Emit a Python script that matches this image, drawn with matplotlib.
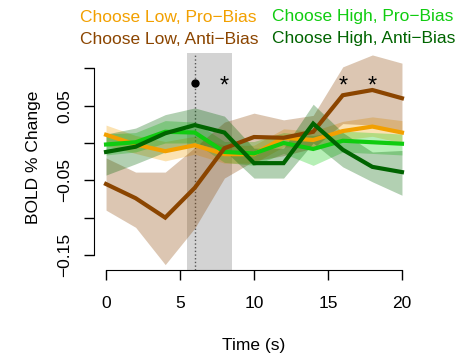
import matplotlib
matplotlib.use("Agg")
import matplotlib.pyplot as plt

plt.rcParams['font.family'] = ['Liberation Sans', 'DejaVu Sans']
plt.rcParams['font.size'] = 12.5

# time points (s)
t = [0, 2, 4, 6, 8, 10, 12, 14, 16, 18, 20]

# Choose Low, Pro-Bias
low_pro = [0.011, -0.002, -0.011, -0.003, -0.015, -0.015, 0.007, 0.004, 0.016, 0.022, 0.014]
low_pro_lo = [-0.003, -0.014, -0.024, -0.015, -0.027, -0.027, -0.005, -0.008, 0.004, 0.009, 0.000]
low_pro_hi = [0.024, 0.010, 0.002, 0.009, -0.003, -0.003, 0.019, 0.016, 0.029, 0.035, 0.030]

# Choose High, Pro-Bias
high_pro = [-0.002, 0.001, 0.015, 0.014, -0.012, -0.014, 0.000, -0.008, 0.003, 0.001, -0.001]
high_pro_lo = [-0.016, -0.012, 0.000, 0.000, -0.026, -0.030, -0.014, -0.030, -0.012, -0.014, -0.016]
high_pro_hi = [0.012, 0.014, 0.030, 0.028, 0.002, 0.002, 0.014, 0.010, 0.016, 0.014, 0.012]

# Choose Low, Anti-Bias
low_anti = [-0.055, -0.074, -0.100, -0.060, -0.007, 0.008, 0.007, 0.015, 0.064, 0.071, 0.060]
low_anti_lo = [-0.090, -0.113, -0.163, -0.114, -0.047, -0.024, -0.017, -0.007, 0.026, 0.024, 0.013]
low_anti_hi = [-0.020, -0.039, -0.039, -0.006, 0.028, 0.040, 0.031, 0.037, 0.102, 0.118, 0.107]

# Choose High, Anti-Bias
high_anti = [-0.012, -0.005, 0.013, 0.024, 0.014, -0.027, -0.027, 0.026, -0.009, -0.032, -0.039]
high_anti_lo = [-0.043, -0.028, -0.012, 0.000, -0.010, -0.047, -0.047, 0.000, -0.032, -0.052, -0.070]
high_anti_hi = [0.012, 0.020, 0.038, 0.047, 0.036, -0.007, -0.007, 0.052, 0.014, -0.012, -0.010]

names = ['Choose Low, Pro\u2212Bias', 'Choose High, Pro\u2212Bias',
         'Choose Low, Anti\u2212Bias', 'Choose High, Anti\u2212Bias']
cols = ['#F2A000', '#10CC10', '#8B4500', '#006400']

# significance marks
dot_t = [6]
star_t = [8, 16, 18]
mark_y = 0.08

xticks = [0, 5, 10, 15, 20]
yticks = [-0.15, -0.10, -0.05, 0.0, 0.05, 0.10]
ylabs = ['\u22120.15', '', '\u22120.05', '', '0.05', '']

fig = plt.figure(figsize=(4.6, 3.57), dpi=100)
ax = fig.add_axes([94.2/460, 87/357, 319.6/460, 217/357])

# stimulus window
ax.axvspan(5.5, 8.5, color='#D3D3D3', lw=0, zorder=0)
ax.axvline(6, color='#555555', ls=':', lw=1, zorder=1)

series = [(low_pro, low_pro_lo, low_pro_hi),
          (high_pro, high_pro_lo, high_pro_hi),
          (low_anti, low_anti_lo, low_anti_hi),
          (high_anti, high_anti_lo, high_anti_hi)]
for (m, lo, hi), c in zip(series, cols):
    ax.fill_between(t, lo, hi, color=c, alpha=0.3, lw=0, zorder=2)
for (m, lo, hi), c in zip(series, cols):
    ax.plot(t, m, color=c, lw=3, zorder=3, solid_joinstyle='miter')

ax.plot(dot_t, [mark_y]*len(dot_t), 'o', color='black', ms=5, zorder=4)
for s in star_t:
    ax.text(s, mark_y - 0.004, '*', ha='center', va='center', fontsize=17, zorder=4)

ax.set_xlim(-0.8, 20.8)
ax.set_ylim(-0.1702, 0.1206)
for sp in ['top', 'right']:
    ax.spines[sp].set_visible(False)
ax.spines['left'].set_bounds(-0.15, 0.10)
ax.spines['bottom'].set_bounds(0, 20)
ax.set_xticks(xticks)
ax.set_yticks(yticks)
ax.set_yticklabels(ylabs, rotation=90, va='center')
ax.tick_params(axis='both', length=7, width=1, direction='out')
ax.tick_params(axis='x', pad=11.5)
ax.tick_params(axis='y', pad=9)

ax.set_xlabel('Time (s)')
ax.xaxis.set_label_coords(0.5, -0.315)
ax.set_ylabel('BOLD % Change')
ax.yaxis.set_label_coords(-0.165, 0.52)

# legend as coloured text above the plot
leg_x = [80, 272, 80, 272]
leg_y = [17, 17, 39, 39]
for nm, c, lx, ly in zip(names, cols, leg_x, leg_y):
    fig.text(lx/460, 1 - ly/357, nm, color=c, ha='left', va='center', fontsize=12.5)

fig.savefig('out.png', dpi=100)
